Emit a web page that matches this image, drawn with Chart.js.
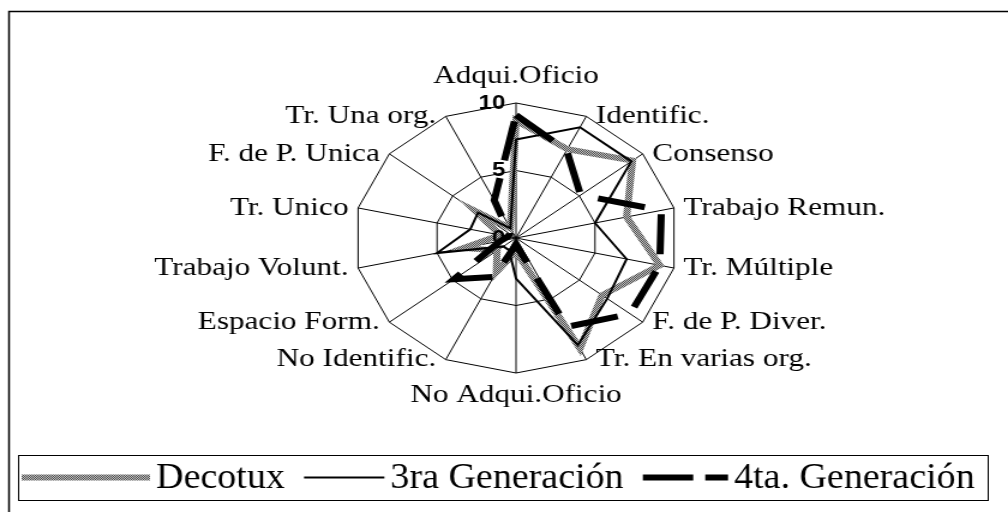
<!DOCTYPE html>
<html>
<head>
<meta charset="utf-8">
<script src="https://cdn.jsdelivr.net/npm/chart.js@4.4.0/dist/chart.umd.min.js"></script>
<style>
  html, body { margin: 0; padding: 0; background: #fff; overflow: hidden; }
  /* the original picture is stretched sideways, so the whole chart is too */
  #wrap { width: 840px; height: 512px; transform: scaleX(1.2); transform-origin: 0 0; }
</style>
</head>
<body>
<div id="wrap"><canvas id="radar" width="840" height="512"></canvas></div>
<script>
const categories = ['Adqui.Oficio', 'Identific.', 'Consenso', 'Trabajo Remun.', 'Tr. Múltiple',
    'F. de P. Diver.', 'Tr. En varias org.', 'No Adqui.Oficio', 'No Identific.', 'Espacio Form.',
    'Trabajo Volunt.', 'Tr. Unico', 'F. de P. Unica', 'Tr. Una org.'];
const decotux = [8.7, 7.3, 9.2, 7.0, 9.1, 6.8, 9.1, 1.0, 2.8, 1.5, 3.3, 1.0, 3.2, 0.8];
const tercera = [7.3, 9.1, 9.1, 5.0, 7.0, 7.2, 8.8, 3.0, 1.0, 1.0, 5.0, 2.9, 3.0, 0.8];
const cuarta = [9.1, 7.2, 5.1, 9.2, 9.1, 9.0, 7.3, 0.5, 3.2, 4.9, 1.0, 0.5, 0.5, 3.1];
const seriesNames = ['Decotux', '3ra Generación', '4ta. Generación'];
const scaleMin = 0;
const scaleMax = 10;
const tickStep = 5;

const serifFont = '"Liberation Serif", "Times New Roman", serif';

// grey dithered fill like the old Excel pattern line
function ditherPattern() {
    const c = document.createElement('canvas');
    c.width = 2; c.height = 2;
    const g = c.getContext('2d');
    g.fillStyle = '#c4c4c4';
    g.fillRect(0, 0, 2, 2);
    g.fillStyle = '#4a4a4a';
    g.fillRect(0, 0, 1, 1);
    g.fillRect(1, 1, 1, 1);
    return g.createPattern(c, 'repeat');
}
const grey = ditherPattern();

const framePlugin = {
    id: 'frame',
    beforeDraw(chart) {
        const ctx = chart.ctx;
        ctx.save();
        ctx.strokeStyle = '#000';
        ctx.lineWidth = 1.5;
        ctx.strokeRect(7.5, 11.5, 900, 600);
        ctx.restore();
    }
};

const labelPlugin = {
    id: 'pointText',
    afterDatasetsDraw(chart) {
        const r = chart.scales.r;
        const ctx = chart.ctx;
        ctx.save();
        ctx.fillStyle = '#000';

        // scale numbers, left of the vertical spoke
        ctx.font = 'bold 20px "Liberation Sans", Arial, sans-serif';
        ctx.textAlign = 'right';
        ctx.textBaseline = 'middle';
        r.ticks.forEach(t => {
            const d = r.getDistanceFromCenterForValue(t.value);
            ctx.fillText(t.label, r.xCenter - 9, r.yCenter - d);
        });

        ctx.font = '26px ' + serifFont;
        chart.data.labels.forEach((name, i) => {
            const p = r.getPointPosition(i, r.drawingArea);
            const dx = p.x - r.xCenter;
            let x = p.x, y = p.y;
            if (Math.abs(dx) < 1) {
                ctx.textAlign = 'center';
                y = p.y < r.yCenter ? p.y - 27 : p.y + 22;
            } else {
                ctx.textAlign = dx > 0 ? 'left' : 'right';
                x = p.x + (dx > 0 ? 8 : -8);
            }
            ctx.fillText(name, x, y);
        });
        ctx.restore();
    }
};

const legendPlugin = {
    id: 'legendBox',
    afterDraw(chart) {
        const ctx = chart.ctx;
        const top = 455, bottom = 500, mid = (top + bottom) / 2;
        const squeeze = 0.88;   // legend text is narrower than the rest
        ctx.save();
        ctx.strokeStyle = '#000';
        ctx.lineWidth = 1;
        ctx.strokeRect(15.5, top + 0.5, 808, bottom - top);

        const samples = [107, 67, 71];
        const dashes = [[], [], [42, 10]];
        ctx.font = '36px ' + serifFont;
        ctx.textAlign = 'left';
        ctx.textBaseline = 'middle';
        let x = 18;
        chart.data.datasets.forEach((ds, i) => {
            ctx.save();
            ctx.strokeStyle = ds.borderColor;
            ctx.lineWidth = ds.borderWidth;
            ctx.setLineDash(dashes[i]);
            ctx.beginPath();
            ctx.moveTo(x, mid);
            ctx.lineTo(x + samples[i], mid);
            ctx.stroke();
            ctx.restore();
            x += samples[i] + 5;
            ctx.save();
            ctx.translate(x, mid + 1);
            ctx.scale(squeeze, 1);
            ctx.fillStyle = '#000';
            ctx.fillText(ds.label, 0, 0);
            ctx.restore();
            x += ctx.measureText(ds.label).width * squeeze + 16;
        });
        ctx.restore();
    }
};

new Chart(document.getElementById('radar'), {
    type: 'radar',
    data: {
        labels: categories,
        datasets: [
            {
                label: seriesNames[0],
                data: decotux,
                borderColor: grey,
                borderWidth: 6,
                order: 3
            },
            {
                label: seriesNames[1],
                data: tercera,
                borderColor: '#000',
                borderWidth: 2,
                order: 2
            },
            {
                label: seriesNames[2],
                data: cuarta,
                borderColor: '#000',
                borderWidth: 6,
                borderDash: [40, 18],
                order: 1
            }
        ]
    },
    options: {
        responsive: false,
        animation: false,
        events: [],
        layout: {
            padding: { left: 295, right: 275, top: 103, bottom: 139 }
        },
        elements: {
            line: { tension: 0, fill: false, borderJoinStyle: 'miter' },
            point: { radius: 0, hoverRadius: 0 }
        },
        plugins: {
            legend: { display: false },
            tooltip: { enabled: false }
        },
        scales: {
            r: {
                min: scaleMin,
                max: scaleMax,
                ticks: { stepSize: tickStep, display: false },
                pointLabels: { display: false },
                grid: { color: '#000', lineWidth: 1 },
                angleLines: { color: '#000', lineWidth: 1 }
            }
        }
    },
    plugins: [framePlugin, labelPlugin, legendPlugin]
});
</script>
</body>
</html>
